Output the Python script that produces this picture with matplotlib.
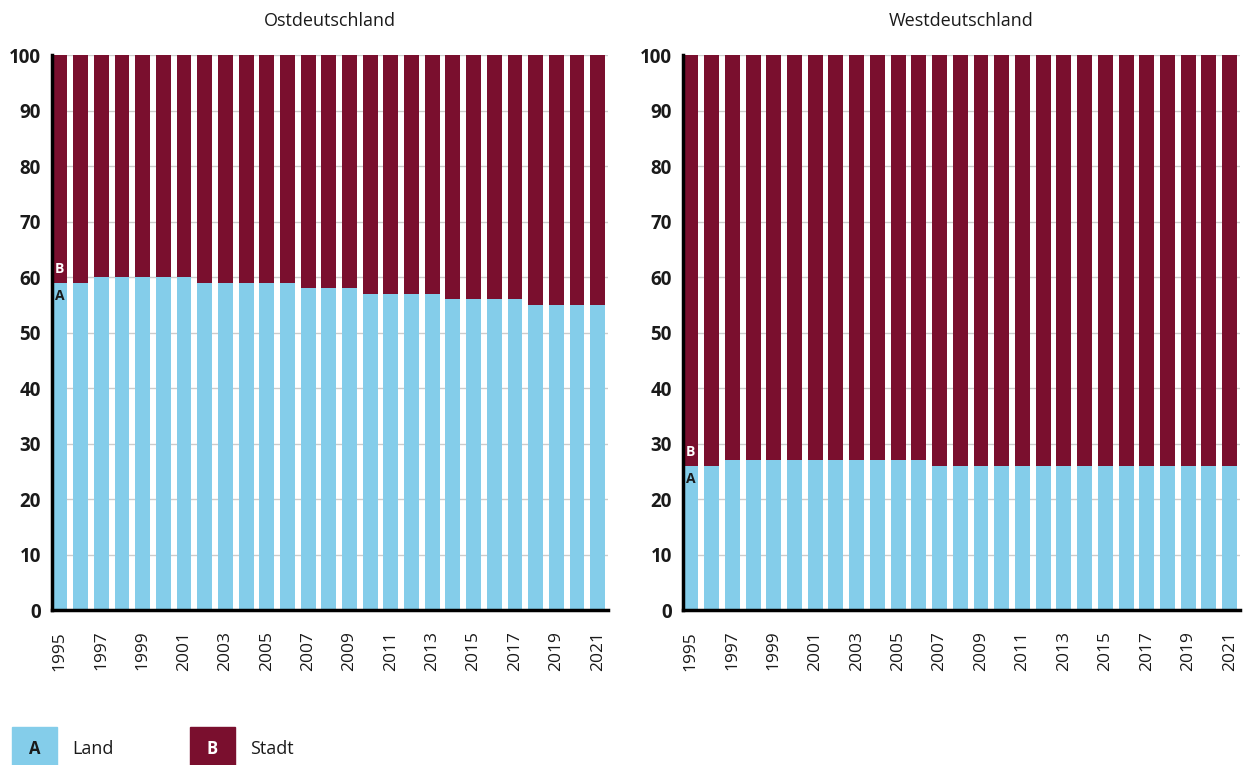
import numpy as np
import matplotlib.pyplot as plt
from matplotlib.patches import Rectangle

plt.rcParams['font.family'] = ['Open Sans', 'DejaVu Sans']

years = list(range(1995, 2022))
ost_land = [59, 59, 60, 60, 60, 60, 60, 59, 59, 59, 59, 59, 58, 58, 58,
            57, 57, 57, 57, 56, 56, 56, 56, 55, 55, 55, 55]
west_land = [26, 26, 27, 27, 27, 27, 27, 27, 27, 27, 27, 27, 26, 26, 26,
             26, 26, 26, 26, 26, 26, 26, 26, 26, 26, 26, 26]
titles = ['Ostdeutschland', 'Westdeutschland']
legend_labels = ['Land', 'Stadt']

c_land = '#84cdea'
c_stadt = '#7a0f2e'

fig = plt.figure(figsize=(12.48, 7.65), dpi=100)
ax1 = fig.add_axes([0.0417, 0.2026, 0.4455, 0.7255])
ax2 = fig.add_axes([0.5473, 0.2026, 0.4463, 0.7255])

x = np.arange(len(years))
w = 0.72
for ax, land, title in zip([ax1, ax2], [ost_land, west_land], titles):
    land = np.array(land)
    stadt = 100 - land
    ax.bar(x, land, width=w, color=c_land, zorder=2)
    ax.bar(x, stadt, width=w, bottom=land, color=c_stadt, zorder=2)
    ax.set_xlim(-w / 2 - 0.02, len(years) - 0.5)
    ax.set_ylim(0, 100)
    ax.set_yticks(range(0, 101, 10))
    ax.yaxis.grid(True, color='#cccccc', lw=1, zorder=0)
    ax.set_axisbelow(True)
    for s in ['top', 'right']:
        ax.spines[s].set_visible(False)
    ax.spines['left'].set_linewidth(2.5)
    ax.spines['bottom'].set_linewidth(2.5)
    ax.tick_params(axis='y', length=0, pad=8, labelsize=13.5)
    for lbl in ax.get_yticklabels():
        lbl.set_fontweight('bold')
        lbl.set_color('#1a1a1a')
    ax.set_xticks(x[::2])
    ax.set_xticklabels([str(y) for y in years[::2]], rotation=90, fontsize=12.5,
                       color='#1a1a1a')
    ax.tick_params(axis='x', length=0, pad=15)
    ax.set_title(title, fontsize=13, color='#1a1a1a', pad=21)
    # A / B markers in first bar
    ax.text(0, land[0] - 1.2, 'A', ha='center', va='top', fontsize=10,
            fontweight='bold', color='#1a1a1a', zorder=3)
    ax.text(0, land[0] + 1.2, 'B', ha='center', va='bottom', fontsize=10,
            fontweight='bold', color='white', zorder=3)

# legend
for i, (lab, col, letter, tc) in enumerate(zip(legend_labels, [c_land, c_stadt],
                                              ['A', 'B'], ['#1a1a1a', 'white'])):
    x0 = [12, 190][i] / 1248
    fig.patches.append(Rectangle((x0, 0), 45 / 1248, 38 / 765, transform=fig.transFigure,
                                 color=col, zorder=1))
    fig.text(x0 + 22.5 / 1248, 16 / 765, letter, ha='center', va='center',
             fontsize=12, fontweight='bold', color=tc)
    fig.text(x0 + 60 / 1248, 16 / 765, lab, ha='left', va='center',
             fontsize=13, color='#1a1a1a')

fig.savefig('out.png', dpi=100)
